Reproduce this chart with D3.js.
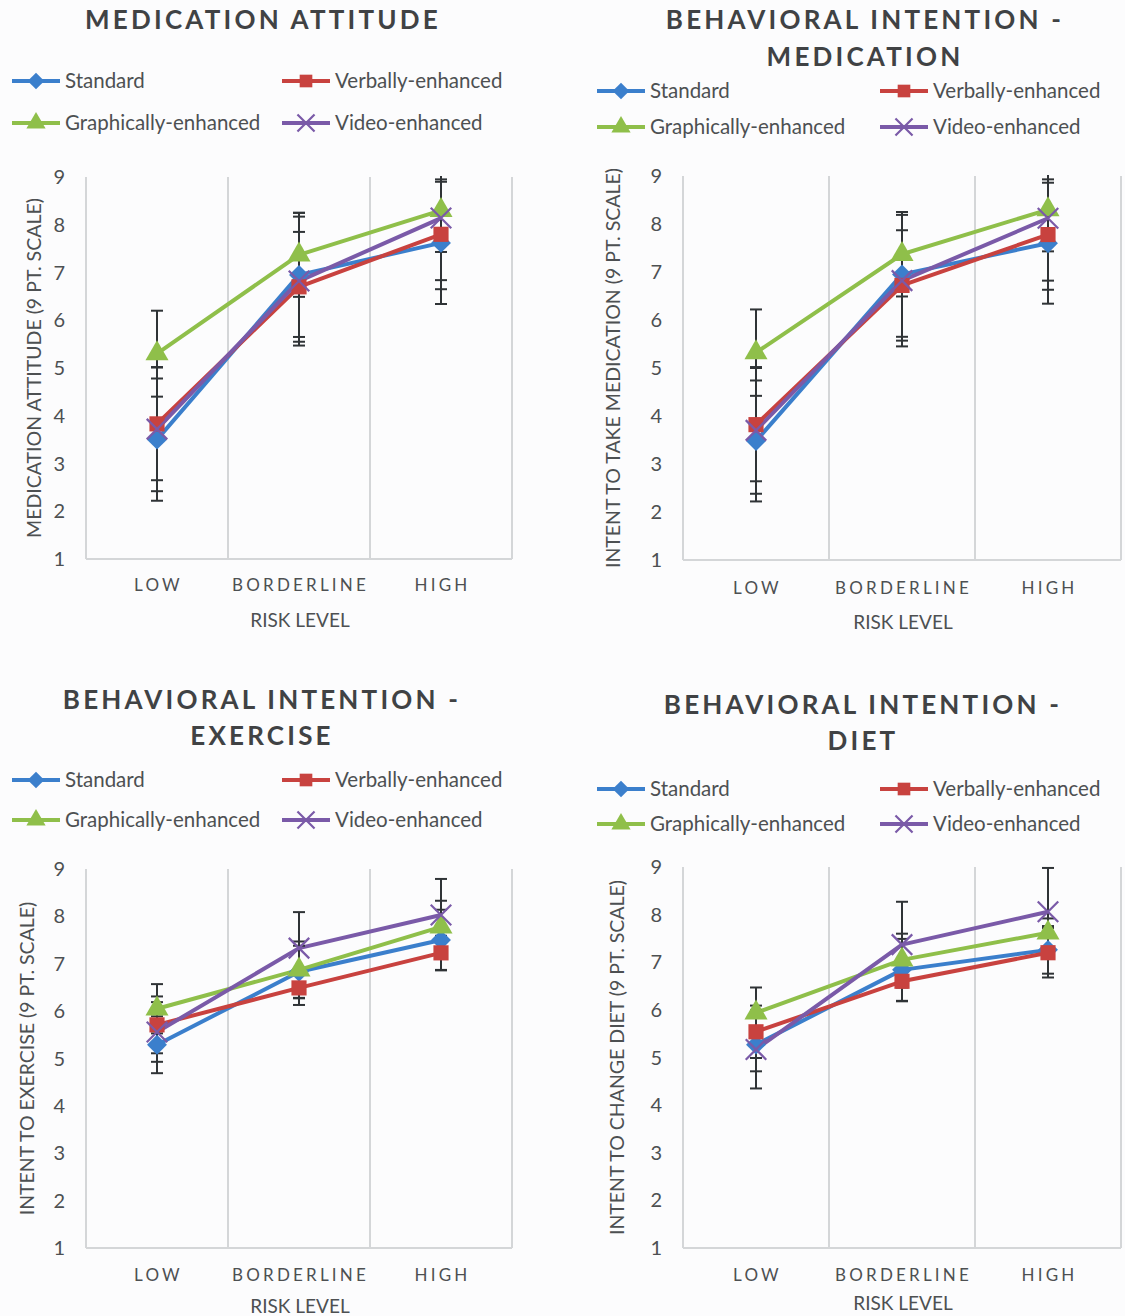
<!DOCTYPE html>
<html>
<head>
<meta charset="utf-8">
<script src="https://cdn.jsdelivr.net/npm/d3@7"></script>
<style>
  body { margin: 0; background: #fcfcfd; }
  svg { display: block; font-family: Lato, "Open Sans", sans-serif; }
</style>
</head>
<body>
<div id="chart"></div>
<script>
// categories and series
const categories = ["LOW", "BORDERLINE", "HIGH"];
const seriesNames = ["Standard", "Verbally-enhanced", "Graphically-enhanced", "Video-enhanced"];
const seriesColors = ["#3b7fcc", "#c8423f", "#8fbf4a", "#7a5aa8"];
const seriesSymbols = ["diamond", "square", "triangle", "cross"];
const yTicks = [1, 2, 3, 4, 5, 6, 7, 8, 9];

// medication attitude: means and error bar sizes per series
const attitudeMeans = [[3.5, 6.95, 7.62], [3.83, 6.7, 7.8], [5.3, 7.37, 8.3], [3.72, 6.82, 8.14]];
const attitudeErrors = [[1.28, 1.3, 1.28], [1.18, 1.15, 1.15], [0.9, 0.88, 0.87], [1.3, 1.35, 1.3]];

// intent to take medication
const medicationMeans = [[3.48, 6.95, 7.6], [3.82, 6.72, 7.78], [5.32, 7.37, 8.3], [3.7, 6.82, 8.12]];
const medicationErrors = [[1.26, 1.3, 1.26], [1.18, 1.15, 1.15], [0.9, 0.88, 0.87], [1.32, 1.37, 1.3]];

// intent to exercise
const exerciseMeans = [[5.29, 6.83, 7.5], [5.71, 6.49, 7.23], [6.05, 6.87, 7.78], [5.56, 7.33, 8.03]];
const exerciseErrors = [[0.6, 0.55, 0.64], [0.6, 0.36, 0.36], [0.52, 0.6, 0.55], [0.63, 0.76, 0.76]];

// intent to change diet
const dietMeans = [[5.27, 6.84, 7.26], [5.54, 6.6, 7.2], [5.94, 7.05, 7.62], [5.17, 7.37, 8.06]];
const dietErrors = [[0.56, 0.65, 0.5], [0.55, 0.42, 0.52], [0.53, 0.55, 0.3], [0.82, 0.9, 0.92]];

const panels = [
    { title: ["MEDICATION ATTITUDE"], titleX: 263, titleY: [20],
      yLabel: "MEDICATION ATTITUDE (9 PT. SCALE)", yLabelX: 34,
      legendY: [81, 123], legendX: [12, 282],
      plot: { left: 86, right: 512, top: 177, bottom: 559 },
      catY: 585, axisTitleY: 620,
      means: attitudeMeans, errors: attitudeErrors },
    { title: ["BEHAVIORAL INTENTION -", "MEDICATION"], titleX: 865, titleY: [20, 57],
      yLabel: "INTENT TO TAKE  MEDICATION (9 PT. SCALE)", yLabelX: 613,
      legendY: [91, 127], legendX: [597, 880],
      plot: { left: 683, right: 1121, top: 176, bottom: 560 },
      catY: 588, axisTitleY: 622,
      means: medicationMeans, errors: medicationErrors },
    { title: ["BEHAVIORAL INTENTION -", "EXERCISE"], titleX: 262, titleY: [700, 736],
      yLabel: "INTENT TO EXERCISE (9 PT.  SCALE)", yLabelX: 27,
      legendY: [780, 820], legendX: [12, 282],
      plot: { left: 86, right: 512, top: 869, bottom: 1248 },
      catY: 1275, axisTitleY: 1306,
      means: exerciseMeans, errors: exerciseErrors },
    { title: ["BEHAVIORAL INTENTION -", "DIET"], titleX: 863, titleY: [705, 741],
      yLabel: "INTENT TO CHANGE DIET (9 PT. SCALE)", yLabelX: 617,
      legendY: [789, 824], legendX: [597, 880],
      plot: { left: 683, right: 1121, top: 867, bottom: 1248 },
      catY: 1275, axisTitleY: 1303,
      means: dietMeans, errors: dietErrors }
];

const svg = d3.select("#chart").append("svg").attr("width", 1125).attr("height", 1316);
svg.append("rect").attr("width", 1125).attr("height", 1316).attr("fill", "#fcfcfd");

const textColor = "#4d5052";
const gridColor = "#d4d6d8";
const errColor = "#2f3336";

function symbolPath(kind, size) {
    if(kind === "diamond") return d3.symbol().type(d3.symbolDiamond2).size(size * 1.1)();
    if(kind === "square") return d3.symbol().type(d3.symbolSquare).size(size)();
    if(kind === "triangle") return d3.symbol().type(d3.symbolTriangle).size(size)();
    return d3.symbol().type(d3.symbolTimes).size(size * 1.2)();
}

function drawMarker(g, kind, color, x, y, size) {
    const m = g.append("path").
    attr("d", symbolPath(kind, size)).
    attr("transform", "translate(" + x + "," + y + ")");
    if(kind === "cross") m.attr("fill", "none").attr("stroke", color).attr("stroke-width", 2.2);
    else m.attr("fill", color);
}

panels.forEach((p, pi) => {
    const g = svg.append("g");
    const x = d3.scaleBand().domain(categories).range([p.plot.left, p.plot.right]).padding(0);
    const y = d3.scaleLinear().domain([1, 9]).range([p.plot.bottom, p.plot.top]);
    const cx = c => x(c) + x.bandwidth() / 2;

    // title
    p.title.forEach((t, i) => {
        g.append("text").
        attr("x", p.titleX).
        attr("y", p.titleY[i]).
        attr("dy", "0.36em").
        attr("text-anchor", "middle").
        attr("font-size", 26).
        attr("font-weight", "bold").
        attr("letter-spacing", "3.2px").
        attr("fill", "#404244").
        text(t);
    });

    // legend, two columns
    seriesNames.forEach((name, i) => {
        const lx = p.legendX[i % 2];
        const ly = p.legendY[Math.floor(i / 2)];
        g.append("line").
        attr("x1", lx).attr("x2", lx + 48).
        attr("y1", ly).attr("y2", ly).
        attr("stroke", seriesColors[i]).
        attr("stroke-width", 4);
        drawMarker(g, seriesSymbols[i], seriesColors[i], lx + 24, ly, 160);
        g.append("text").
        attr("x", lx + 53).
        attr("y", ly).
        attr("dy", "0.35em").
        attr("font-size", 20.5).
        attr("fill", textColor).
        text(name);
    });

    // vertical grid lines at the category edges + bottom axis
    const edges = categories.map(c => x(c)).concat([p.plot.right]);
    g.selectAll("line.grid").data(edges).join("line").
    attr("class", "grid").
    attr("x1", d => d).attr("x2", d => d).
    attr("y1", p.plot.top).attr("y2", p.plot.bottom).
    attr("stroke", gridColor).
    attr("stroke-width", 2);
    g.append("line").
    attr("x1", p.plot.left).attr("x2", p.plot.right).
    attr("y1", p.plot.bottom).attr("y2", p.plot.bottom).
    attr("stroke", gridColor).
    attr("stroke-width", 2);

    // y tick labels
    g.selectAll("text.ytick").data(yTicks).join("text").
    attr("class", "ytick").
    attr("x", p.plot.left - 21).
    attr("y", d => y(d)).
    attr("dy", "0.35em").
    attr("text-anchor", "end").
    attr("font-size", 20).
    attr("fill", textColor).
    text(d => d);

    // category labels
    g.selectAll("text.cat").data(categories).join("text").
    attr("class", "cat").
    attr("x", d => cx(d) + 1.5).
    attr("y", p.catY).
    attr("dy", "0.35em").
    attr("text-anchor", "middle").
    attr("font-size", 17).
    attr("letter-spacing", "3.2px").
    attr("fill", textColor).
    text(d => d);

    g.append("text").
    attr("x", (p.plot.left + p.plot.right) / 2 + 1).
    attr("y", p.axisTitleY).
    attr("dy", "0.35em").
    attr("text-anchor", "middle").
    attr("font-size", 19).
    attr("fill", textColor).
    text("RISK LEVEL");

    g.append("text").
    attr("transform", "translate(" + p.yLabelX + "," + ((p.plot.top + p.plot.bottom) / 2) + ") rotate(-90)").
    attr("dy", "0.35em").
    attr("text-anchor", "middle").
    attr("font-size", 19.5).
    attr("fill", textColor).
    text(p.yLabel);

    // clip for error bars
    const clipId = "clip" + pi;
    svg.append("clipPath").attr("id", clipId).append("rect").
    attr("x", p.plot.left).attr("y", p.plot.top - 1).
    attr("width", p.plot.right - p.plot.left).attr("height", p.plot.bottom - p.plot.top + 1);

    const line = d3.line().x(d => cx(d.cat)).y(d => y(d.v));

    p.means.forEach((vals, si) => {
        const pts = vals.map((v, k) => ({ cat: categories[k], v: v }));
        g.append("path").
        datum(pts).
        attr("d", line).
        attr("fill", "none").
        attr("stroke", seriesColors[si]).
        attr("stroke-width", 4).
        attr("stroke-linejoin", "round");
    });

    p.means.forEach((vals, si) => {
        const eg = g.append("g").attr("clip-path", "url(#" + clipId + ")");
        vals.forEach((v, k) => {
            const e = p.errors[si][k];
            const px = cx(categories[k]);
            eg.append("line").
            attr("x1", px).attr("x2", px).
            attr("y1", y(v + e)).attr("y2", y(v - e)).
            attr("stroke", errColor).attr("stroke-width", 2);
            [v + e, v - e].forEach(w => {
                eg.append("line").
                attr("x1", px - 6).attr("x2", px + 6).
                attr("y1", y(w)).attr("y2", y(w)).
                attr("stroke", errColor).attr("stroke-width", 2);
            });
        });
    });

    p.means.forEach((vals, si) => {
        vals.forEach((v, k) => {
            drawMarker(g, seriesSymbols[si], seriesColors[si], cx(categories[k]), y(v), 230);
        });
    });
});
</script>
</body>
</html>
